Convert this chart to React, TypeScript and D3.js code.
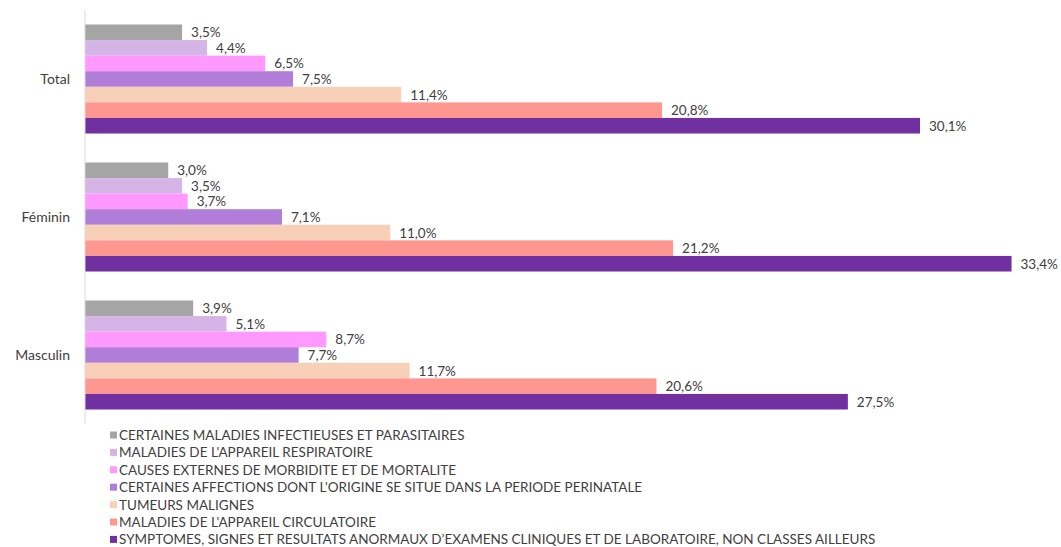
import React from "react";
import * as d3 from "d3";

const categories = ["Total", "Féminin", "Masculin"];
const series = [
  "CERTAINES MALADIES INFECTIEUSES ET PARASITAIRES",
  "MALADIES DE L'APPAREIL RESPIRATOIRE",
  "CAUSES EXTERNES DE MORBIDITE ET DE MORTALITE",
  "CERTAINES AFFECTIONS DONT L'ORIGINE SE SITUE DANS LA PERIODE PERINATALE",
  "TUMEURS MALIGNES",
  "MALADIES DE L'APPAREIL CIRCULATOIRE",
  "SYMPTOMES, SIGNES ET RESULTATS ANORMAUX D\u2019EXAMENS CLINIQUES ET DE LABORATOIRE, NON CLASSES AILLEURS",
];
const colors = ["#A5A5A5", "#D5B4E6", "#FF99FF", "#B07ED8", "#F8D0B8", "#FF9791", "#7030A0"];
// values[series][category]
const values = [
  [3.5, 3.0, 3.9],
  [4.4, 3.5, 5.1],
  [6.5, 3.7, 8.7],
  [7.5, 7.1, 7.7],
  [11.4, 11.0, 11.7],
  [20.8, 21.2, 20.6],
  [30.1, 33.4, 27.5],
];

const W = 1061;
const H = 547;
const FONT = "Lato, 'Open Sans', sans-serif";

export default function App() {
  const x = d3.scaleLinear().domain([0, 30.1]).range([85, 920]);
  const y = d3
    .scaleBand<string>()
    .domain(categories)
    .range([10, 424])
    .paddingInner(0.21)
    .paddingOuter(0.105);
  const yi = d3
    .scaleBand<number>()
    .domain(series.map((_, i) => i))
    .range([0, y.bandwidth()]);
  const fmt = (v: number) => v.toFixed(1).replace(".", ",") + "%";

  return (
    <svg
      width={W}
      height={H}
      style={{ position: "absolute", left: 0, top: 0, background: "#fff" }}
      fontFamily={FONT}
    >
      <rect x={0} y={0} width={W} height={H} fill="#fff" />
      {categories.map((c, ci) => (
        <g key={c}>
          {series.map((s, si) => {
            const v = values[si][ci];
            const by = (y(c) as number) + (yi(si) as number);
            const bh = yi.bandwidth();
            return (
              <g key={s}>
                <rect x={x(0)} y={by} width={x(v) - x(0)} height={bh} fill={colors[si]} />
                <text
                  x={x(v) + 9}
                  y={by + bh / 2 + 5}
                  fontSize={13.5}
                  fill="#404040"
                >
                  {fmt(v)}
                </text>
              </g>
            );
          })}
          <text
            x={70}
            y={(y(c) as number) + y.bandwidth() / 2 + 5}
            textAnchor="end"
            fontSize={14}
            fill="#404040"
          >
            {c}
          </text>
        </g>
      ))}
      <line x1={85} x2={85} y1={10} y2={424} stroke="#D9D9D9" strokeWidth={1} />
      {series.map((s, si) => (
        <g key={s} transform={`translate(110, ${435.5 + si * 17.4})`}>
          <rect x={0} y={-4} width={7} height={7} fill={colors[si]} />
          <text x={9} y={4.5} fontSize={13.5} fill="#404040">
            {s}
          </text>
        </g>
      ))}
    </svg>
  );
}
